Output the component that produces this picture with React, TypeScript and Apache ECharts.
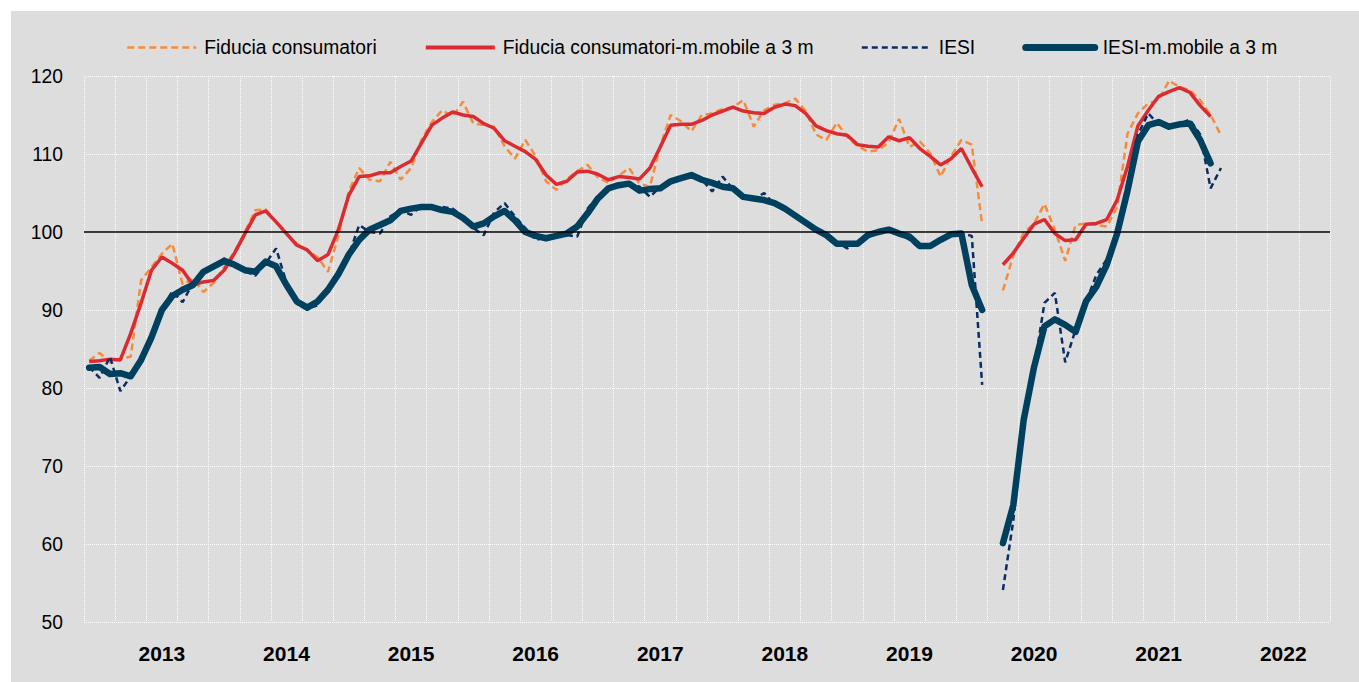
import React, { useEffect, useRef } from "react";
import * as echarts from "echarts";

const years = ["2013", "2014", "2015", "2016", "2017", "2018", "2019", "2020", "2021", "2022"];
const monthsPerYear = ["01", "02", "03", "04", "05", "06", "07", "08", "09", "10", "11", "12"];
const categories: string[] = years.flatMap((y) => monthsPerYear.map((m) => `${y}-${m}`));

const fiducia: (number | null)[] = [
  83.5, 84.5, 83.3, 83.8, 84.0, 93.8, 95.5, 97.2, 98.5, 93.3, 94.0, 92.3,
  93.5, 95.5, 97.5, 100.0, 102.8, 102.9, 101.3, 99.8, 98.5, 97.6, 96.8, 94.9,
  99.5, 105.2, 108.2, 106.7, 106.5, 109.0, 106.7, 108.2, 111.8, 114.1, 115.6, 114.8,
  116.7, 113.9, 113.7, 113.5, 111.0, 109.4, 111.8, 109.7, 106.5, 105.4, 106.8, 107.8,
  108.6, 107.0, 106.3, 107.2, 108.2, 106.2, 105.8, 111.0, 115.0, 114.2, 112.9, 115.0,
  115.2, 115.8, 116.0, 116.9, 113.5, 115.6, 116.3, 116.5, 117.1, 115.5, 112.5, 111.8,
  114.0, 112.2, 111.0, 110.3, 110.5, 111.5, 114.5, 110.9, 111.6, 110.1, 107.1, 109.7,
  111.8, 111.2, 101.0, null, 92.5, 97.0, 99.9, 101.1, 103.6, 100.3, 96.3, 100.9,
  101.1, 100.9, 100.7, 103.2, 112.6, 115.2, 116.5, 116.9, 119.4, 118.6, 118.2, 116.9,
  115.0, 112.4,
];

const fiduciaMA: (number | null)[] = [
  83.4, 83.5, 83.7, 83.6, 87.0, 90.9, 95.1, 96.8, 96.0, 95.1, 93.2, 93.6,
  93.8, 95.1, 97.3, 99.8, 102.2, 102.7, 101.3, 99.8, 98.3, 97.7, 96.3, 97.1,
  100.3, 104.7, 107.1, 107.2, 107.6, 107.6, 108.4, 109.1, 111.4, 113.7, 114.6, 115.4,
  115.0, 114.8, 113.9, 113.3, 111.7, 111.0, 110.3, 109.3, 107.3, 106.1, 106.5, 107.7,
  107.8, 107.4, 106.7, 107.1, 107.0, 106.8, 108.2, 110.9, 113.7, 113.8, 113.8, 114.3,
  115.0, 115.5, 116.0, 115.5, 115.3, 115.2, 116.0, 116.4, 116.2, 115.2, 113.6, 113.0,
  112.6, 112.4, 111.2, 111.0, 110.9, 112.2, 111.7, 112.1, 110.7, 109.7, 108.6, 109.4,
  110.7, 108.2, 105.8, null, 95.8, 97.3, 99.2, 101.0, 101.6, 99.8, 98.9, 99.0,
  101.0, 101.1, 101.6, 104.1, 108.4, 113.6, 115.6, 117.4, 118.0, 118.5, 117.9, 116.2,
  114.8, null,
];

const iesi: (number | null)[] = [
  82.7, 81.3, 84.0, 79.6, 81.5, 83.8, 86.0, 90.0, 92.4, 91.0, 93.5, 94.9,
  95.4, 96.6, 96.0, 95.0, 94.4, 96.0, 97.9, 93.5, 90.8, 90.2, 90.6, 92.8,
  94.5, 97.0, 100.9, 100.0, 99.8, 102.0, 102.8, 102.2, 103.4, 103.0, 103.2, 103.0,
  102.0, 100.5, 99.6, 102.5, 103.7, 102.0, 100.5, 99.0, 99.3, 99.6, 99.6, 99.4,
  103.0, 104.6, 105.6, 106.0, 106.3, 105.8, 104.5, 105.8, 106.6, 107.0, 107.5, 106.7,
  105.2, 107.1, 105.5, 104.3, 104.2, 105.0, 103.5, 103.0, 102.0, 101.0, 100.3, 99.6,
  98.7, 97.9, 98.6, 99.6, 100.0, 100.5, 99.8, 99.0, 97.9, 98.3, 99.0, 99.6,
  99.8, 99.5, 80.4, null, 54.1, 63.0, 75.5, 82.5, 90.9, 92.2, 83.3, 87.5,
  91.0, 94.5, 96.5, 99.5, 106.0, 112.5, 115.2, 113.8, 113.3, 113.9, 114.4, 112.5,
  105.6, 108.2,
];

const iesiMA: (number | null)[] = [
  82.6, 82.7, 81.8, 81.9, 81.5, 83.6, 86.5, 90.0, 91.8, 92.6, 93.2, 94.9,
  95.6, 96.3, 95.8, 95.1, 94.9, 96.2, 95.6, 93.2, 91.1, 90.3, 91.1, 92.6,
  94.6, 97.1, 99.0, 100.3, 100.9, 101.5, 102.7, 103.0, 103.2, 103.2, 102.8, 102.6,
  101.8, 100.7, 101.1, 102.0, 102.7, 101.5, 100.0, 99.5, 99.2, 99.5, 99.8, 100.7,
  102.4, 104.3, 105.6, 106.0, 106.2, 105.3, 105.5, 105.6, 106.5, 106.9, 107.3, 106.7,
  106.3, 105.8, 105.6, 104.5, 104.3, 104.1, 103.7, 103.0, 102.1, 101.2, 100.3, 99.6,
  98.5, 98.5, 98.5, 99.6, 100.0, 100.3, 99.8, 99.4, 98.2, 98.2, 99.0, 99.7,
  99.8, 93.2, 90.0, null, 60.1, 65.0, 75.9, 82.7, 87.9, 88.8, 88.1, 87.2,
  91.1, 93.0, 95.8, 99.8, 105.3, 111.6, 113.7, 114.1, 113.5, 113.8, 113.9, 111.8,
  108.8, null,
];

const seriesNames = [
  "Fiducia consumatori",
  "Fiducia consumatori-m.mobile a 3 m",
  "IESI",
  "IESI-m.mobile a 3 m",
];

const FONT = "'Liberation Sans', Arial, sans-serif";

export default function App() {
  const ref = useRef<HTMLDivElement>(null);

  useEffect(() => {
    document.body.style.margin = "0";
    if (!ref.current) return;
    const chart = echarts.init(ref.current, undefined, { renderer: "svg" });
    chart.setOption({
      animation: false,
      backgroundColor: "transparent",
      legend: {
        left: 126,
        top: 38,
        padding: 0,
        itemWidth: 69,
        itemHeight: 14,
        itemGap: 47,
        itemStyle: { opacity: 0 },
        textStyle: { fontSize: 19.3, fontFamily: FONT, color: "#000", padding: [0, 0, 0, 3] },
        data: [
          { name: seriesNames[0], lineStyle: { width: 2.5 } },
          { name: seriesNames[1], lineStyle: { width: 4 } },
          { name: seriesNames[2], lineStyle: { width: 2.5 } },
          { name: seriesNames[3], lineStyle: { width: 7, cap: "round" } },
        ],
      },
      grid: { left: 84, right: 29, top: 76, bottom: 60 },
      xAxis: {
        type: "category",
        data: categories,
        boundaryGap: true,
        axisLine: { show: false },
        axisTick: { show: false },
        axisLabel: {
          interval: (index: number) => index % 12 === 7,
          formatter: (v: string) => v.slice(0, 4),
          fontSize: 21,
          fontWeight: "bold",
          fontFamily: FONT,
          color: "#000",
          margin: 21,
        },
        splitLine: {
          show: true,
          interval: 2,
          lineStyle: { color: "#ffffff", type: "dotted", width: 1 },
        },
      },
      yAxis: {
        type: "value",
        min: 50,
        max: 120,
        interval: 10,
        axisLine: { show: false },
        axisTick: { show: false },
        axisLabel: { fontSize: 19.3, fontFamily: FONT, color: "#000", margin: 21 },
        splitLine: { show: true, lineStyle: { color: "#ffffff", type: "dotted", width: 1 } },
      },
      series: [
        {
          name: seriesNames[0],
          type: "line",
          data: fiducia,
          symbol: "none",
          connectNulls: false,
          lineStyle: { color: "#F58C3C", width: 2.5, type: [7, 4] },
          itemStyle: { color: "#F58C3C" },
          markLine: {
            silent: true,
            symbol: "none",
            label: { show: false },
            lineStyle: { color: "#000", width: 1.5, type: "solid" },
            data: [{ yAxis: 100 }],
          },
        },
        {
          name: seriesNames[1],
          type: "line",
          data: fiduciaMA,
          symbol: "none",
          connectNulls: false,
          lineStyle: { color: "#DB2B31", width: 3.5 },
          itemStyle: { color: "#DB2B31" },
        },
        {
          name: seriesNames[2],
          type: "line",
          data: iesi,
          symbol: "none",
          connectNulls: false,
          lineStyle: { color: "#0C2C64", width: 2.5, type: [6, 4] },
          itemStyle: { color: "#0C2C64" },
        },
        {
          name: seriesNames[3],
          type: "line",
          data: iesiMA,
          symbol: "none",
          connectNulls: false,
          lineStyle: { color: "#00405F", width: 6.5, cap: "round", join: "round" },
          itemStyle: { color: "#00405F" },
        },
      ],
    });
    return () => chart.dispose();
  }, []);

  return (
    <div style={{ position: "relative", width: 1359, height: 682, background: "#ffffff" }}>
      <div
        style={{ position: "absolute", left: 11, top: 11, width: 1348, height: 671, background: "#dddddd" }}
      />
      <div ref={ref} style={{ position: "absolute", left: 0, top: 0, width: 1359, height: 682 }} />
    </div>
  );
}
